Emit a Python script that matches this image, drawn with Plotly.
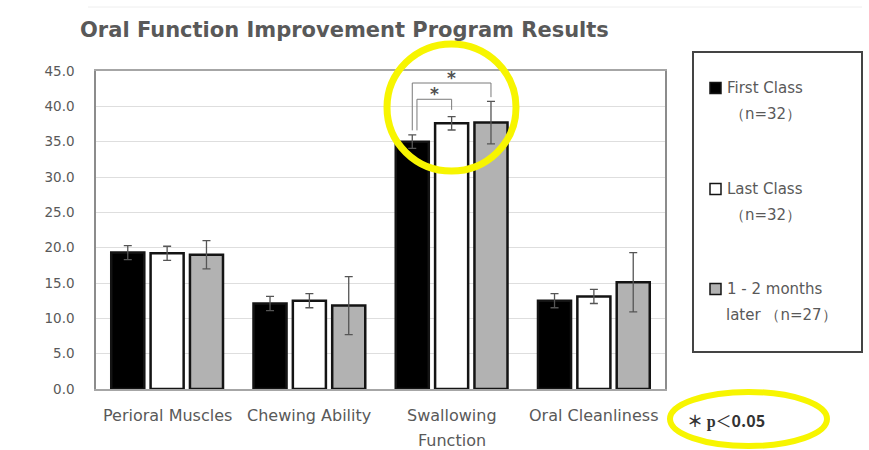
import plotly.graph_objects as go

# Chart data
categories = ["Perioral Muscles", "Chewing Ability", "Swallowing<br>Function", "Oral Cleanliness"]
series_names = ["First Class", "Last Class", "1 - 2 months"]
legend_second_lines = ["（n=32）", "（n=32）", "later （n=27）"]
first_class = [19.3, 12.1, 35.0, 12.5]
first_class_err = [1.0, 1.0, 0.95, 1.0]
last_class = [19.2, 12.5, 37.6, 13.1]
last_class_err = [1.0, 1.0, 0.95, 1.0]
months_later = [19.0, 11.8, 37.7, 15.1]
months_later_err = [2.0, 4.1, 3.0, 4.2]
y_ticks = [0, 5, 10, 15, 20, 25, 30, 35, 40, 45]

W, H = 869, 450
L, R, T, B = 96, 204, 71, 61
GRAY_TXT = "#595959"
FONT = "DejaVu Sans"
BARGAP = 0.17
SLOT = (1 - BARGAP) / 3


def px(xp):
    return (xp - L) / (W - L - R)


def py(yp):
    return (H - B - yp) / (H - T - B)


fills = ["#000000", "#ffffff", "#b2b2b2"]
values = [first_class, last_class, months_later]
errors = [first_class_err, last_class_err, months_later_err]

fig = go.Figure()
for name, vals, errs, fill in zip(series_names, values, errors, fills):
    fig.add_trace(go.Bar(
        x=categories, y=vals, name=name,
        marker=dict(color=fill, line=dict(color="#141414", width=2.5)),
        error_y=dict(type="data", array=errs, color="#555555", thickness=1.3, width=4),
        showlegend=False,
    ))

shapes = []
ann = []

# Category labels below the axis (multi-line labels get wider line spacing)
for i, cat in enumerate(categories):
    for j, line in enumerate(cat.split("<br>")):
        ann.append(dict(x=i, y=0, xref="x", yref="y", text=line, showarrow=False,
                        xanchor="center", yanchor="middle", yshift=-26 - 25 * j,
                        font=dict(family=FONT, size=16, color=GRAY_TXT)))

# Significance brackets for swallowing function (category index 2)
c = 2
x_first = c - SLOT
x_last = c
x_later = c + SLOT
bracket_style = dict(type="line", xref="x", yref="y", line=dict(color="#7a7a7a", width=1))
# outer: first vs 1-2 months later
outer_top, outer_left_bot, outer_right_bot = 43.3, 36.6, 41.3
shapes += [
    dict(x0=x_first, x1=x_first, y0=outer_left_bot, y1=outer_top, **bracket_style),
    dict(x0=x_first, x1=x_later, y0=outer_top, y1=outer_top, **bracket_style),
    dict(x0=x_later, x1=x_later, y0=outer_top, y1=outer_right_bot, **bracket_style),
]
# inner: first vs last
xi = x_first + 0.033
inner_top, inner_left_bot, inner_right_bot = 41.0, 36.6, 39.5
shapes += [
    dict(x0=xi, x1=xi, y0=inner_left_bot, y1=inner_top, **bracket_style),
    dict(x0=xi, x1=x_last, y0=inner_top, y1=inner_top, **bracket_style),
    dict(x0=x_last, x1=x_last, y0=inner_top, y1=inner_right_bot, **bracket_style),
]
for xs, ytop in [((x_first + x_later) / 2, outer_top), ((xi + x_last) / 2, inner_top)]:
    ann.append(dict(x=xs, y=ytop, xref="x", yref="y", text="<b>*</b>",
                    showarrow=False, yanchor="bottom", yshift=-7,
                    font=dict(family=FONT, size=17, color="#505050")))

# Title
ann.append(dict(x=px(78), y=py(30), xref="paper", yref="paper", text="<b>Oral Function Improvement Program Results</b>",
                showarrow=False, xanchor="left", yanchor="middle",
                font=dict(family=FONT, size=21, color=GRAY_TXT)))

# Legend box
shapes.append(dict(type="rect", xref="paper", yref="paper", x0=px(693), x1=px(862), y0=py(352), y1=py(52),
                   line=dict(color="#444444", width=2), fillcolor="rgba(0,0,0,0)"))
legend_rows = [88, 189, 289]
for name, second, fill, yrow in zip(series_names, legend_second_lines, fills, legend_rows):
    shapes.append(dict(type="rect", xref="paper", yref="paper",
                       x0=px(710), x1=px(721), y0=py(yrow + 5.5), y1=py(yrow - 5.5),
                       fillcolor=fill, line=dict(color="#141414", width=1.5)))
    ann.append(dict(x=px(725), y=py(yrow), xref="paper", yref="paper", text=name, showarrow=False,
                    xanchor="left", yanchor="middle", font=dict(family=FONT, size=15, color=GRAY_TXT)))
    x2 = 724 if second.startswith("later") else 728
    ann.append(dict(x=px(x2), y=py(yrow + 26), xref="paper", yref="paper", text=second, showarrow=False,
                    xanchor="left", yanchor="middle", font=dict(family=FONT, size=15, color=GRAY_TXT)))

# Significance note
ann.append(dict(x=px(685), y=py(420), xref="paper", yref="paper",
                text="<b>＊ </b><span style='font-family:Liberation Serif'><b>p</b></span>＜<b>0.05</b>",
                showarrow=False, xanchor="left", yanchor="middle",
                font=dict(family="Noto Sans CJK JP", size=16, color="#333333")))

# Highlight ellipses
shapes.append(dict(type="circle", xref="paper", yref="paper", x0=px(387), x1=px(516), y0=py(171), y1=py(44),
                   line=dict(color="#f7f500", width=7)))
shapes.append(dict(type="circle", xref="paper", yref="paper", x0=px(670), x1=px(827), y0=py(446), y1=py(392),
                   line=dict(color="#f7f500", width=6)))

# faint top rule
shapes.append(dict(type="line", xref="paper", yref="paper", x0=px(88), x1=px(862), y0=py(7), y1=py(7),
                   line=dict(color="#eeeeee", width=1)))

fig.update_layout(
    width=W, height=H,
    margin=dict(l=L, r=R, t=T, b=B, pad=0),
    paper_bgcolor="white", plot_bgcolor="white",
    barmode="group", bargap=BARGAP, bargroupgap=0.16,
    shapes=shapes, annotations=ann,
    font=dict(family=FONT, color=GRAY_TXT),
)
fig.update_xaxes(
    showline=True, mirror=True, linecolor="#a6a6a6", linewidth=1.5,
    showgrid=False, ticks="", showticklabels=False,
)
fig.update_yaxes(
    range=[0, 45], tickvals=y_ticks, tickformat=".1f",
    showline=True, mirror=True, linecolor="#8c8c8c", linewidth=1.5,
    showgrid=True, gridcolor="#dedede", gridwidth=1, zeroline=False,
    tickfont=dict(family=FONT, size=13.5, color=GRAY_TXT), ticklabelstandoff=17,
)

fig.write_html("out.html")
